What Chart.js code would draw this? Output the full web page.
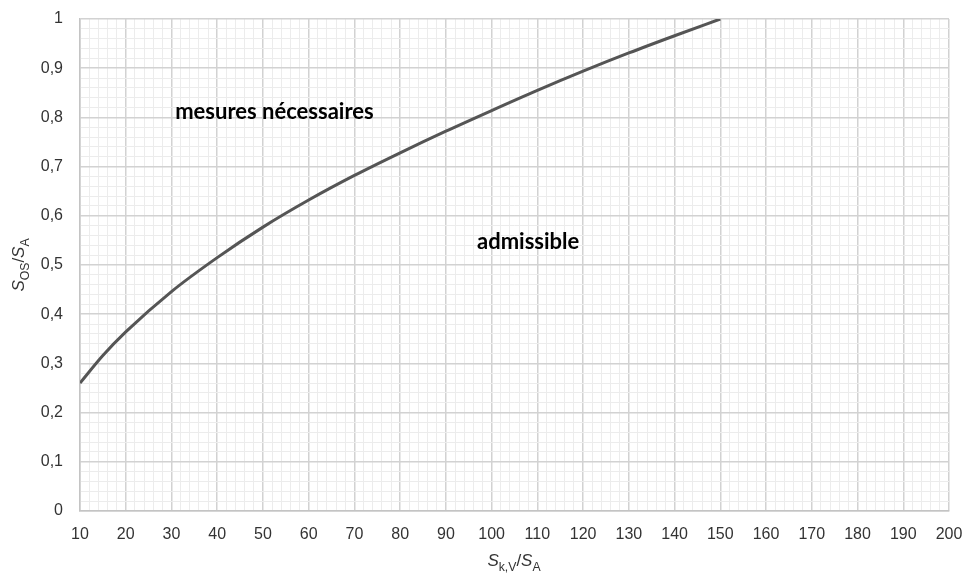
<!DOCTYPE html>
<html>
<head>
<meta charset="utf-8">
<script src="https://cdn.jsdelivr.net/npm/chart.js@4/dist/chart.umd.min.js"></script>
<style>
  html, body { margin: 0; padding: 0; background: #fff; }
  #wrap { width: 966px; height: 573px; }
</style>
</head>
<body>
<div id="wrap"><canvas id="chart" width="966" height="573"></canvas></div>
<script>
// data
const ratioKV = [10, 15, 20, 30, 40, 50, 60, 70, 80, 90, 100, 110, 120, 130, 140, 150];
const ratioOS = [0.26, 0.316, 0.364, 0.446, 0.515, 0.577, 0.632, 0.682, 0.728, 0.772, 0.814, 0.855, 0.894, 0.931, 0.966, 1.0];

const xMin = 10, xMax = 200;
const yMin = 0, yMax = 1;

// region labels: [text, x, y] in data units
const regionLabels = [
  ["mesures nécessaires", 30.8, 0.811],
  ["admissible", 96.8, 0.547]
];

const majorGrid = "#d2d2d2";
const minorGrid = "#ececec";

const isMajorX = (v) => Math.round(v) % 10 === 0;
const isMajorY = (v) => Math.round(v * 100) % 10 === 0;

// draws a string with subscript parts: parts = [[text, sub, italic], ...]
function drawParts(ctx, parts, size) {
  let w = 0;
  const fonts = parts.map(p => {
    const s = p[1] ? size * 0.72 : size;
    return (p[2] ? "italic " : "") + s + "px 'Liberation Sans', Arial, sans-serif";
  });
  parts.forEach((p, i) => { ctx.font = fonts[i]; w += ctx.measureText(p[0]).width; });
  let x = -w / 2;
  parts.forEach((p, i) => {
    ctx.font = fonts[i];
    ctx.fillText(p[0], x, p[1] ? size * 0.3 : 0);
    x += ctx.measureText(p[0]).width;
  });
}

const labelsPlugin = {
  id: "labels",
  afterDraw(chart) {
    const ctx = chart.ctx;
    const xs = chart.scales.x, ys = chart.scales.y;
    ctx.save();
    ctx.fillStyle = "#000";
    ctx.font = "bold 22px Lato, 'Open Sans', sans-serif";
    ctx.textBaseline = "middle";
    ctx.textAlign = "left";
    regionLabels.forEach(l => {
      ctx.fillText(l[0], xs.getPixelForValue(l[1]), ys.getPixelForValue(l[2]));
    });

    // axis titles
    ctx.fillStyle = "#333";
    ctx.textAlign = "left";
    ctx.textBaseline = "alphabetic";
    ctx.save();
    ctx.translate(514, 566);
    drawParts(ctx, [["S", false, true], ["k,V", true, false], ["/", false, false], ["S", false, true], ["A", true, false]], 17);
    ctx.restore();

    ctx.save();
    ctx.translate(24, 265);
    ctx.rotate(-Math.PI / 2);
    drawParts(ctx, [["S", false, true], ["OS", true, false], ["/", false, false], ["S", false, true], ["A", true, false]], 17);
    ctx.restore();
    ctx.restore();
  }
};

new Chart(document.getElementById("chart"), {
  type: "line",
  data: {
    datasets: [{
      data: ratioKV.map((x, i) => ({ x: x, y: ratioOS[i] })),
      borderColor: "#555555",
      borderWidth: 3,
      pointRadius: 0,
      cubicInterpolationMode: "monotone",
      fill: false
    }]
  },
  options: {
    responsive: false,
    animation: false,
    layout: { padding: { top: 19, right: 17, left: 0, bottom: 0 } },
    plugins: { legend: { display: false }, tooltip: { enabled: false } },
    scales: {
      x: {
        type: "linear",
        min: xMin, max: xMax,
        afterFit: (s) => { s.height = 62; s.paddingLeft = 0; s.paddingRight = 0; },
        border: { color: "#c4c4c4", width: 1.5 },
        grid: {
          drawTicks: false,
          color: (c) => isMajorX(c.tick.value) ? majorGrid : minorGrid,
          lineWidth: (c) => isMajorX(c.tick.value) ? 1.5 : 1
        },
        ticks: {
          stepSize: 2,
          autoSkip: false,
          maxRotation: 0,
          padding: 14,
          color: "#333",
          font: { size: 16, family: "'Liberation Sans', Arial, sans-serif" },
          callback: (v) => isMajorX(v) ? String(Math.round(v)) : ""
        }
      },
      y: {
        type: "linear",
        min: yMin, max: yMax,
        afterFit: (s) => { s.width = 80; s.paddingTop = 0; s.paddingBottom = 0; },
        border: { color: "#c4c4c4", width: 1.5 },
        grid: {
          drawTicks: false,
          color: (c) => isMajorY(c.tick.value) ? majorGrid : minorGrid,
          lineWidth: (c) => isMajorY(c.tick.value) ? 1.5 : 1
        },
        ticks: {
          stepSize: 0.02,
          autoSkip: false,
          padding: 17,
          color: "#333",
          font: { size: 16, family: "'Liberation Sans', Arial, sans-serif" },
          callback: (v) => isMajorY(v) ? String(Math.round(v * 10) / 10).replace(".", ",") : ""
        }
      }
    }
  },
  plugins: [labelsPlugin]
});
</script>
</body>
</html>
